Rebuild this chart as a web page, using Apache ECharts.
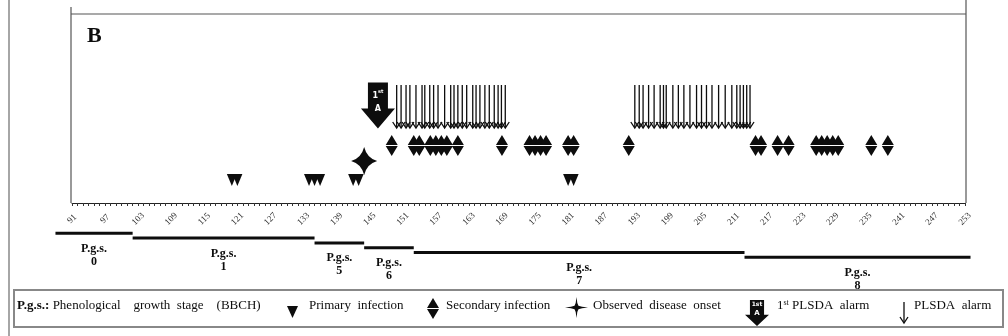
<!DOCTYPE html>
<html>
<head>
<meta charset="utf-8">
<script src="https://cdn.jsdelivr.net/npm/echarts@6/dist/echarts.min.js"></script>
<style>
  html, body { margin: 0; padding: 0; background: #fff; }
  #chart { width: 1008px; height: 336px; }
</style>
</head>
<body>
<div id="chart"></div>
<script>
// Day-of-year tick labels shown on the axis
const tickLabels = [91, 97, 103, 109, 115, 121, 127, 133, 139, 145, 151, 157, 163, 169,
  175, 181, 187, 193, 199, 205, 211, 217, 223, 229, 235, 241, 247, 253];
// Every day gets a small tick
const tickDays = [];
for (let d = 91; d <= 253; d++) tickDays.push(d);

// Events (day of year)
const primaryDays = [120, 121, 134, 135, 136, 142, 143, 181, 182];
const onsetDays = [144];
const secondaryDays = [149, 153, 154, 156, 157, 158, 159, 161, 169, 174, 175, 176, 177,
  181, 182, 192, 215, 216, 219, 221, 226, 227, 228, 229, 230, 236, 239];
const firstAlarmDays = [146.5];
const alarmDays = [
  149.9, 150.7, 151.6, 152.3, 153.4, 154.5, 155.0, 155.9, 156.6, 157.4, 158.6, 159.7, 160.3,
  161.0, 161.8, 162.6, 163.7, 164.3, 165.0, 165.9, 166.7, 167.6, 168.3, 168.9, 169.6,
  193.1, 193.9, 194.6, 195.6, 196.6, 197.7, 198.3, 198.8, 200.0, 201.0, 202.0, 203.1,
  204.3, 205.2, 206.1, 207.1, 208.3, 209.5, 210.7, 211.6, 212.2, 212.8, 213.4, 214.0
];

// Phenological growth stages (BBCH)
const stageNames = ['0', '1', '5', '6', '7', '8'];
const stageStart = [88, 102, 135, 144, 153, 213];
const stageEnd = [102, 135, 144, 153, 213, 254];

// Row heights on the hidden vertical scale (0 = axis line)
const PRIMARY_ROW = 23;
const ONSET_ROW = 42;
const SECONDARY_ROW = 57.5;
const FIRST_ALARM_ROW = 97.5;
const ALARM_TOP = 118;
const ALARM_TIP = 75;
const STAGE_ROW0 = -30.3;
const STAGE_STEP = -4.8;

const SERIF = '"Liberation Serif", "DejaVu Serif", serif';
const INK = '#0d0d0d';

const TRI_PATH = 'path://M0,0 L10,0 L5,12 Z';
const DIAMOND_PATH = 'path://M6,0 L12,10 L0,10 Z M0,11 L12,11 L6,21 Z';
const STAR_PATH = 'path://M13,0 Q15.8,11.2 26,14 Q15.8,16.8 13,28 Q10.2,16.8 0,14 Q10.2,11.2 13,0 Z';
const BIG_ARROW_PATH = 'path://M7,0 L27,0 L27,26 L34,26 L17,46 L0,26 L7,26 Z';

// Unit outlines (0..1 box) for the legend keys
const TRI_PTS = [[0, 0], [1, 0], [0.5, 1]];
const DIA_UP_PTS = [[0.5, 0], [1, 0.476], [0, 0.476]];
const DIA_DN_PTS = [[0, 0.524], [1, 0.524], [0.5, 1]];
const STAR_PTS = [[0.5, 0], [0.535, 0.28], [0.585, 0.42], [0.74, 0.47], [1, 0.5], [0.74, 0.53], [0.585, 0.58], [0.535, 0.72],
  [0.5, 1], [0.465, 0.72], [0.415, 0.58], [0.26, 0.53], [0, 0.5], [0.26, 0.47], [0.415, 0.42], [0.465, 0.28]];
const ARROW_PTS = [[0.206, 0], [0.794, 0], [0.794, 0.565], [1, 0.565], [0.5, 1], [0, 0.565], [0.206, 0.565]];

const chart = echarts.init(document.getElementById('chart'));

function poly(pts, x, y, w, h) {
  return { type: 'polygon', shape: { points: pts.map(p => [x + p[0] * w, y + p[1] * h]) },
    style: { fill: INK } };
}

function thinArrow(x, yTop, yTip) {
  return [
    { type: 'line', shape: { x1: x, y1: yTop, x2: x, y2: yTip - 1 },
      style: { stroke: INK, lineWidth: 1.3 } },
    { type: 'polyline', shape: { points: [[x - 4, yTip - 6], [x, yTip], [x + 4, yTip - 6]] },
      style: { stroke: INK, lineWidth: 1.3, fill: null } }
  ];
}

function legendText(x, text, rich) {
  const style = { text: text, font: '13px ' + SERIF, fill: INK, verticalAlign: 'middle' };
  if (rich) style.rich = rich;
  return { type: 'text', x: x, y: 306, style: style };
}

const solid = { color: INK, opacity: 1 };

const option = {
  animation: false,
  backgroundColor: '#fff',
  grid: { left: 72, right: 43, top: 14, bottom: 133, show: false },
  xAxis: {
    type: 'value', min: 91, max: 253,
    axisLine: { show: true, lineStyle: { color: '#222', width: 1 } },
    axisTick: { show: true, customValues: tickDays, length: 3, lineStyle: { color: '#333' } },
    axisLabel: {
      customValues: tickLabels, rotate: 45, align: 'center', verticalAlign: 'middle',
      margin: 16, fontFamily: SERIF, fontSize: 9, color: '#333'
    },
    splitLine: { show: false }
  },
  yAxis: { type: 'value', min: 0, max: 189, show: false },
  graphic: [
    // figure frame
    { type: 'line', shape: { x1: 9, y1: 0, x2: 9, y2: 336 }, style: { stroke: '#888', lineWidth: 1.5 } },
    { type: 'line', shape: { x1: 71, y1: 7, x2: 71, y2: 203 }, style: { stroke: '#555', lineWidth: 1.2 } },
    { type: 'line', shape: { x1: 71, y1: 14, x2: 966, y2: 14 }, style: { stroke: '#555', lineWidth: 1.2 } },
    { type: 'line', shape: { x1: 966, y1: 0, x2: 966, y2: 203 }, style: { stroke: '#555', lineWidth: 1.2 } },
    { type: 'text', x: 87, y: 25,
      style: { text: 'B', font: 'bold 22px ' + SERIF, fill: INK } },
    // legend box
    { type: 'rect', shape: { x: 14, y: 290, width: 989, height: 37 },
      style: { fill: 'none', stroke: '#888', lineWidth: 2 } },
    legendText(17, '{b|P.g.s.:} Phenological    growth  stage    (BBCH)',
      { b: { font: 'bold 13px ' + SERIF, fill: INK } }),
    poly(TRI_PTS, 287, 306, 11, 12),
    legendText(309, 'Primary  infection'),
    poly(DIA_UP_PTS, 427, 298, 12, 21),
    poly(DIA_DN_PTS, 427, 298, 12, 21),
    legendText(446, 'Secondary infection'),
    poly(STAR_PTS, 565, 297, 23, 21),
    legendText(593, 'Observed  disease  onset'),
    poly(ARROW_PTS, 745, 300, 24, 26),
    { type: 'text', x: 757, y: 304,
      style: { text: '1st', font: 'bold 6px "DejaVu Sans", sans-serif', fill: '#fff', align: 'center', verticalAlign: 'middle' } },
    { type: 'text', x: 757, y: 313,
      style: { text: 'A', font: 'bold 7px "DejaVu Sans", sans-serif', fill: '#fff', align: 'center', verticalAlign: 'middle' } },
    legendText(777, '{n|1}{s|st} PLSDA  alarm', {
      n: { font: '13px ' + SERIF, fill: INK },
      s: { font: '8px ' + SERIF, fill: INK, verticalAlign: 'top', padding: [0, 0, 6, 0] }
    }),
    { type: 'group', children: thinArrow(904, 302, 323) },
    legendText(914, 'PLSDA  alarm')
  ],
  series: [
    {
      name: 'Primary infection', type: 'scatter',
      symbol: TRI_PATH, symbolSize: [10, 12],
      itemStyle: solid,
      data: primaryDays.map(d => [d, PRIMARY_ROW])
    },
    {
      name: 'Observed disease onset', type: 'scatter',
      symbol: STAR_PATH, symbolSize: [26, 28],
      itemStyle: solid,
      data: onsetDays.map(d => [d, ONSET_ROW])
    },
    {
      name: 'Secondary infection', type: 'scatter',
      symbol: DIAMOND_PATH, symbolSize: [12, 21],
      itemStyle: solid,
      data: secondaryDays.map(d => [d, SECONDARY_ROW])
    },
    {
      name: '1st PLSDA alarm', type: 'scatter',
      symbol: BIG_ARROW_PATH, symbolSize: [34, 46],
      itemStyle: solid,
      label: {
        show: true, position: 'inside', offset: [0, -3],
        formatter: '{n|1}{s|st}\n{n|A}',
        rich: {
          n: { fontFamily: '"DejaVu Sans", sans-serif', fontWeight: 'bold', fontSize: 8, color: '#fff', lineHeight: 13 },
          s: { fontFamily: '"DejaVu Sans", sans-serif', fontWeight: 'bold', fontSize: 5, color: '#fff', verticalAlign: 'top', lineHeight: 13 }
        }
      },
      data: firstAlarmDays.map(d => [d, FIRST_ALARM_ROW])
    },
    {
      name: 'PLSDA alarm', type: 'custom', clip: false,
      data: alarmDays.map(d => [d]),
      encode: { x: 0 },
      renderItem: function (params, api) {
        const top = api.coord([api.value(0), ALARM_TOP]);
        const tip = api.coord([api.value(0), ALARM_TIP]);
        return { type: 'group', children: thinArrow(top[0], top[1], tip[1]) };
      }
    },
    {
      name: 'Phenological growth stage', type: 'custom', clip: false,
      data: stageStart.map((s, i) => [s, stageEnd[i]]),
      encode: { x: [0, 1] },
      renderItem: function (params, api) {
        const i = params.dataIndex;
        const row = STAGE_ROW0 + STAGE_STEP * i;
        const a = api.coord([api.value(0), row]);
        const b = api.coord([api.value(1), row]);
        return {
          type: 'group',
          children: [
            { type: 'line', shape: { x1: a[0], y1: a[1], x2: b[0], y2: b[1] },
              style: { stroke: INK, lineWidth: 3 } },
            { type: 'text', x: (a[0] + b[0]) / 2, y: a[1] + 9,
              style: {
                text: 'P.g.s.\n' + stageNames[i], font: 'bold 12px ' + SERIF, fill: INK,
                align: 'center', verticalAlign: 'top', lineHeight: 13
              } }
          ]
        };
      }
    }
  ]
};

chart.setOption(option);
</script>
</body>
</html>
